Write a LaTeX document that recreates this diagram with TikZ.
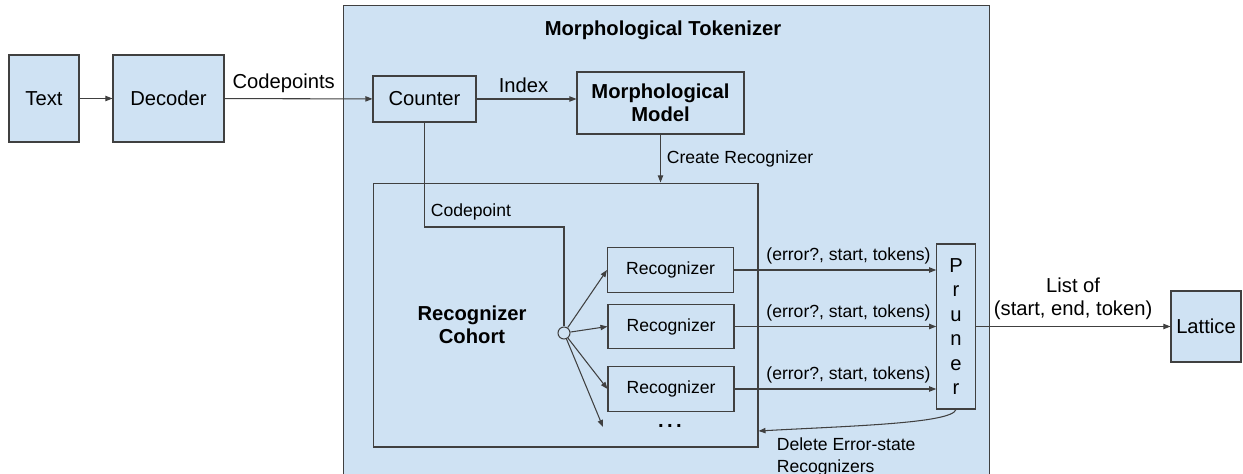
\documentclass[tikz,border=0pt]{standalone}
\usepackage{fontspec}
\setmainfont{Liberation Sans}
\usepackage{tikz}
\usetikzlibrary{arrows.meta}
\definecolor{boxfill}{HTML}{CFE2F3}
\definecolor{linecol}{HTML}{404040}

\begin{document}
\begin{tikzpicture}[x=0.02cm, y=-0.02cm, auto,
    big/.style={font=\fontsize{11.5}{13.5}\selectfont},
    bigbf/.style={font=\fontsize{11.5}{13}\selectfont\bfseries},
    small/.style={font=\fontsize{10}{13}\selectfont},
    blk/.style={draw=linecol, line width=0.6pt, inner sep=0pt, align=center},
    fblk/.style={blk, fill=boxfill},
    ln/.style={draw=linecol, line width=0.6pt},
    ar/.style={ln, -{Triangle[length=4pt,width=3pt]}}]

    \useasboundingbox (0,0) rectangle (1243,473);

    \node[fblk, big, minimum width=1.4cm, minimum height=1.74cm] (text) at (44, 98.5) {Text};
    \node[fblk, big, minimum width=2.22cm, minimum height=1.74cm] (dec) at (168.5, 98.5) {Decoder};
    \node[fblk, minimum width=12.94cm, minimum height=9.9cm] (tok) at (666.5, 252.5) {};
    \node[bigbf] (title) at (663, 30) {Morphological Tokenizer};
    \node[blk, big, minimum width=2.06cm, minimum height=0.92cm] (cnt) at (424.5, 99) {Counter};
    \node[blk, bigbf, minimum width=3.34cm, minimum height=1.24cm] (mm) at (660.5, 103) {Morphological\\Model};
    \node[blk, minimum width=7.7cm, minimum height=5.28cm] (coh) at (565.5, 315) {};
    \node[bigbf, align=center] (cohlbl) at (472, 325) {Recognizer\\Cohort};
    \node[circle, ln, minimum size=0.24cm, inner sep=0pt] (hub) at (564, 333) {};
    \node[blk, small, minimum width=2.52cm, minimum height=0.89cm] (r1) at (670.5, 270) {Recognizer};
    \node[blk, small, minimum width=2.52cm, minimum height=0.89cm] (r2) at (671, 326.5) {Recognizer};
    \node[blk, small, minimum width=2.52cm, minimum height=0.89cm] (r3) at (671, 389) {Recognizer};
    \node[big] (dots) at (670, 426) {\textbf{.\,.\,.}};
    \node[blk, font=\fontsize{11.5}{13.9}\selectfont, minimum width=0.77cm, minimum height=3.3cm] (prn) at (956, 326.5) {P\\r\\u\\n\\e\\r};
    \node[fblk, big, minimum width=1.4cm, minimum height=1.42cm] (lat) at (1206, 326.5) {Lattice};
    \coordinate (bend) at (564, 227);
    \coordinate (more) at (603, 427);

    \draw [ar] (text) to (dec);
    \draw [ar] (dec) to node[above, pos=0.4, big] {Codepoints} (cnt);
    \draw [ar] (cnt.east) to node[above, pos=0.47, big] {Index} (cnt.east -| mm.west);
    \draw [ar] (mm.south) to node[right, small] {Create Recognizer} (mm.south |- coh.north);
    \draw [ln] (cnt.south) |- node[pos=0.5, above right, small] {Codepoint} (bend) -- (hub.north);
    \draw [ar] (hub) -- (r1.west);
    \draw [ar] (hub) -- (r2.west);
    \draw [ar] (hub) -- (r3.west);
    \draw [ar] (hub) -- (more);
    \draw [ar] (r1) to node[pos=1, above left, small, inner sep=3pt] {(error?, start, tokens)} (r1 -| prn.west);
    \draw [ar] (r2) to node[pos=1, above left, small, inner sep=3pt] {(error?, start, tokens)} (r2 -| prn.west);
    \draw [ar] (r3) to node[pos=1, above left, small, inner sep=3pt] {(error?, start, tokens)} (r3 -| prn.west);
    \draw [ar] (prn) to node[above, align=center, big] {List of\\(start, end, token)} (lat);
    \draw [ar] (prn.south) .. controls +(-4, 14) and +(90, -5) .. (coh.east |- 0, 431)
        node[pos=1, anchor=north west, xshift=0.24cm, align=left, small] {Delete Error-state\\Recognizers};

\end{tikzpicture}
\end{document}
